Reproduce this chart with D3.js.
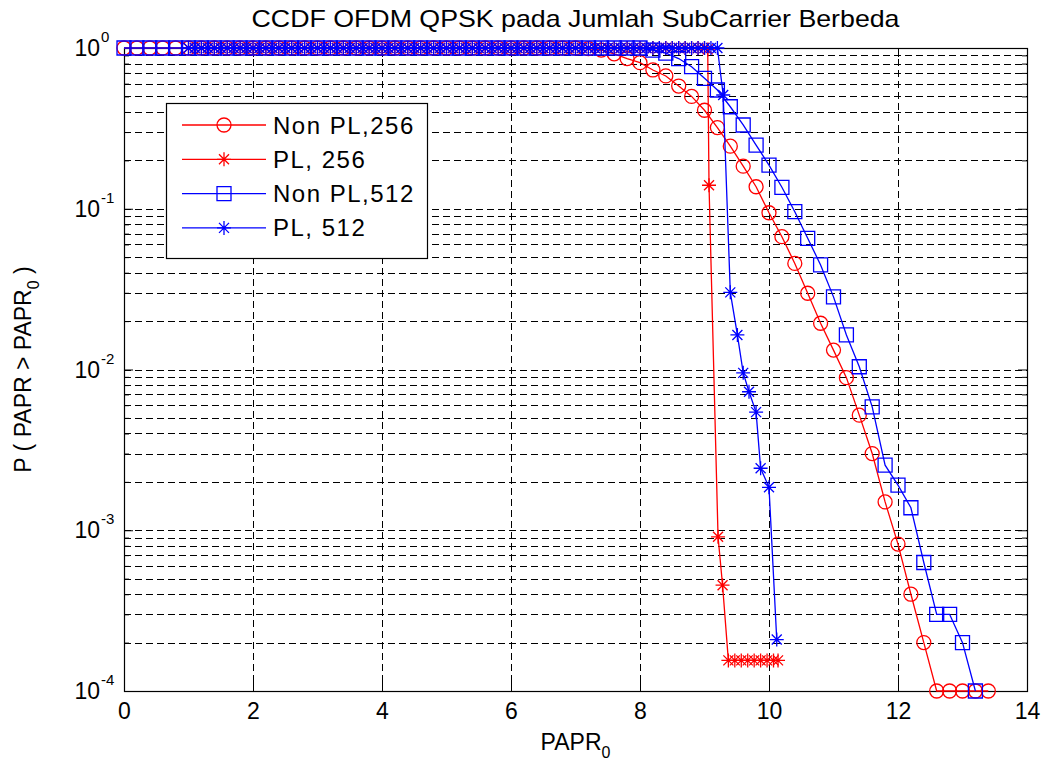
<!DOCTYPE html>
<html>
<head>
<meta charset="utf-8">
<script src="https://cdn.jsdelivr.net/npm/d3@7/dist/d3.min.js"></script>
<style>
  body { margin: 0; background: #fff; }
  text { font-family: "Liberation Sans", Arial, sans-serif; fill: #000; }
</style>
</head>
<body>
<div id="chart"></div>
<script>
// Non PL runs: PAPR0 in 0.2 dB steps
const nonPL256X = [0, 0.2, 0.4, 0.6, 0.8, 1.0, 1.2, 1.4, 1.6, 1.8, 2.0, 2.2, 2.4, 2.6, 2.8, 3.0, 3.2, 3.4, 3.6, 3.8,
    4.0, 4.2, 4.4, 4.6, 4.8, 5.0, 5.2, 5.4, 5.6, 5.8, 6.0, 6.2, 6.4, 6.6, 6.8, 7.0, 7.2, 7.4, 7.6, 7.8,
    8.0, 8.2, 8.4, 8.6, 8.8, 9.0, 9.2, 9.4, 9.6, 9.8, 10.0, 10.2, 10.4, 10.6, 10.8, 11.0, 11.2, 11.4, 11.6, 11.8,
    12.0, 12.2, 12.4, 12.6, 12.8, 13.0, 13.2, 13.4];
const nonPL256P = [1, 1, 1, 1, 1, 1, 1, 1, 1, 1, 1, 1, 1, 1, 1, 1, 1, 1, 1, 1,
    1, 1, 1, 1, 1, 1, 1, 1, 1, 1, 1, 1, 1, 1, 1, 1, 0.99, 0.97, 0.92, 0.86,
    0.81, 0.73, 0.67, 0.58, 0.50, 0.41, 0.32, 0.245, 0.184, 0.137, 0.0944, 0.067, 0.0457, 0.0298, 0.0194, 0.0132, 0.0089, 0.0052, 0.0030, 0.0015,
    0.00082, 0.0004, 0.0002, 0.0001, 0.0001, 0.0001, 0.0001, 0.0001];

const nonPL512X = [0, 0.2, 0.4, 0.6, 0.8, 1.0, 1.2, 1.4, 1.6, 1.8, 2.0, 2.2, 2.4, 2.6, 2.8, 3.0, 3.2, 3.4, 3.6, 3.8,
    4.0, 4.2, 4.4, 4.6, 4.8, 5.0, 5.2, 5.4, 5.6, 5.8, 6.0, 6.2, 6.4, 6.6, 6.8, 7.0, 7.2, 7.4, 7.6, 7.8,
    8.0, 8.2, 8.4, 8.6, 8.8, 9.0, 9.2, 9.4, 9.6, 9.8, 10.0, 10.2, 10.4, 10.6, 10.8, 11.0, 11.2, 11.4, 11.6, 11.8,
    12.0, 12.2, 12.4, 12.6, 12.8, 13.0, 13.2];
const nonPL512P = [1, 1, 1, 1, 1, 1, 1, 1, 1, 1, 1, 1, 1, 1, 1, 1, 1, 1, 1, 1,
    1, 1, 1, 1, 1, 1, 1, 1, 1, 1, 1, 1, 1, 1, 1, 1, 1, 1, 1, 1,
    1, 0.97, 0.93, 0.86, 0.765, 0.648, 0.548, 0.431, 0.332, 0.249, 0.187, 0.136, 0.0959, 0.0655, 0.0447, 0.0283, 0.0164, 0.0104, 0.00586, 0.00254,
    0.00191, 0.00138, 0.00063, 0.0003, 0.0003, 0.0002, 0.0001];

// PL runs: finer PAPR0 steps
const pl256X = [1.0, 1.1, 1.2, 1.3, 1.4, 1.5, 1.6, 1.7, 1.8, 1.9, 2.0, 2.1, 2.2, 2.3, 2.4, 2.5, 2.6, 2.7, 2.8, 2.9,
    3.0, 3.1, 3.2, 3.3, 3.4, 3.5, 3.6, 3.7, 3.8, 3.9, 4.0, 4.1, 4.2, 4.3, 4.4, 4.5, 4.6, 4.7, 4.8, 4.9,
    5.0, 5.1, 5.2, 5.3, 5.4, 5.5, 5.6, 5.7, 5.8, 5.9, 6.0, 6.1, 6.2, 6.3, 6.4, 6.5, 6.6, 6.7, 6.8, 6.9,
    7.0, 7.1, 7.2, 7.3, 7.4, 7.5, 7.6, 7.7, 7.8, 7.9, 8.0, 8.1, 8.2, 8.3, 8.4, 8.5, 8.6, 8.7, 8.8, 8.9,
    9.0, 9.05, 9.07, 9.21, 9.28, 9.37, 9.47, 9.57, 9.67, 9.77, 9.87, 9.97, 10.07, 10.14];
const pl256P = [1, 1, 1, 1, 1, 1, 1, 1, 1, 1, 1, 1, 1, 1, 1, 1, 1, 1, 1, 1,
    1, 1, 1, 1, 1, 1, 1, 1, 1, 1, 1, 1, 1, 1, 1, 1, 1, 1, 1, 1,
    1, 1, 1, 1, 1, 1, 1, 1, 1, 1, 1, 1, 1, 1, 1, 1, 1, 1, 1, 1,
    1, 1, 1, 1, 1, 1, 1, 1, 1, 1, 1, 1, 1, 1, 1, 1, 1, 1, 1, 1,
    1, 0.98, 0.14, 0.00091, 0.000455, 0.000155, 0.000155, 0.000155, 0.000155, 0.000155, 0.000155, 0.000155, 0.000155, 0.000155];

const pl512X = [1.0, 1.1, 1.2, 1.3, 1.4, 1.5, 1.6, 1.7, 1.8, 1.9, 2.0, 2.1, 2.2, 2.3, 2.4, 2.5, 2.6, 2.7, 2.8, 2.9,
    3.0, 3.1, 3.2, 3.3, 3.4, 3.5, 3.6, 3.7, 3.8, 3.9, 4.0, 4.1, 4.2, 4.3, 4.4, 4.5, 4.6, 4.7, 4.8, 4.9,
    5.0, 5.1, 5.2, 5.3, 5.4, 5.5, 5.6, 5.7, 5.8, 5.9, 6.0, 6.1, 6.2, 6.3, 6.4, 6.5, 6.6, 6.7, 6.8, 6.9,
    7.0, 7.1, 7.2, 7.3, 7.4, 7.5, 7.6, 7.7, 7.8, 7.9, 8.0, 8.1, 8.2, 8.3, 8.4, 8.5, 8.6, 8.7, 8.8, 8.9,
    9.0, 9.1, 9.2, 9.29, 9.40, 9.51, 9.60, 9.69, 9.80, 9.87, 10.0, 10.12];
const pl512P = [1, 1, 1, 1, 1, 1, 1, 1, 1, 1, 1, 1, 1, 1, 1, 1, 1, 1, 1, 1,
    1, 1, 1, 1, 1, 1, 1, 1, 1, 1, 1, 1, 1, 1, 1, 1, 1, 1, 1, 1,
    1, 1, 1, 1, 1, 1, 1, 1, 1, 1, 1, 1, 1, 1, 1, 1, 1, 1, 1, 1,
    1, 1, 1, 1, 1, 1, 1, 1, 1, 1, 1, 1, 1, 1, 1, 1, 1, 1, 1, 1,
    1, 1, 1, 0.51, 0.0302, 0.0164, 0.00953, 0.00727, 0.00543, 0.00243, 0.00185, 0.000209];

const seriesNames = ["Non PL,256", "PL, 256", "Non PL,512", "PL, 512"];
const xTicks = [0, 2, 4, 6, 8, 10, 12, 14];
const yDecades = [1e-4, 1e-3, 1e-2, 1e-1, 1];
const titleText = "CCDF OFDM QPSK pada Jumlah SubCarrier Berbeda";

const width = 1046, height = 763;
const margin = { top: 48, right: 19, bottom: 72, left: 124 };

const svg = d3.select("#chart").append("svg")
    .attr("width", width)
    .attr("height", height);

const x = d3.scaleLinear().domain([0, 14]).range([margin.left, width - margin.right]);
const y = d3.scaleLog().domain([1e-4, 1]).range([height - margin.bottom, margin.top]);

const allYTicks = y.ticks();
const minorY = allYTicks.filter(v => !yDecades.some(d => Math.abs(d - v) / d < 1e-9));

// grid (dashed)
const grid = svg.append("g").attr("stroke", "#000").attr("stroke-width", 1)
    .attr("stroke-dasharray", "7,4").attr("shape-rendering", "crispEdges");
grid.selectAll(".gx").data(xTicks.slice(1, -1)).enter().append("line")
    .attr("x1", d => Math.round(x(d)) + 0.5).attr("x2", d => Math.round(x(d)) + 0.5)
    .attr("y1", y(1)).attr("y2", y(1e-4));
grid.selectAll(".gy").data(allYTicks.filter(v => v > 1e-4 && v < 1)).enter().append("line")
    .attr("x1", x(0)).attr("x2", x(14))
    .attr("y1", d => Math.round(y(d)) + 0.5).attr("y2", d => Math.round(y(d)) + 0.5);

// axes, ticks pointing inwards
function styleAxis(g) {
    g.select(".domain").remove();
    g.selectAll(".tick line").attr("stroke", "#000");
}
const bottom = svg.append("g").attr("transform", `translate(0,${y(1e-4)})`)
    .call(d3.axisBottom(x).tickValues(xTicks).tickSizeInner(-9).tickSizeOuter(0).tickPadding(12).tickFormat(d3.format("d")))
    .call(styleAxis);
bottom.selectAll("text").attr("font-size", 23).attr("font-family", "Liberation Sans, Arial, sans-serif");
svg.append("g").attr("transform", `translate(0,${y(1)})`)
    .call(d3.axisTop(x).tickValues(xTicks).tickSizeInner(-9).tickSizeOuter(0).tickFormat(""))
    .call(styleAxis);
svg.append("g").attr("transform", `translate(${x(0)},0)`)
    .call(d3.axisLeft(y).tickValues(yDecades).tickSizeInner(-9).tickSizeOuter(0).tickFormat(""))
    .call(styleAxis);
svg.append("g").attr("transform", `translate(${x(0)},0)`)
    .call(d3.axisLeft(y).tickValues(minorY).tickSizeInner(-5).tickSizeOuter(0).tickFormat(""))
    .call(styleAxis);
svg.append("g").attr("transform", `translate(${x(14)},0)`)
    .call(d3.axisRight(y).tickValues(yDecades).tickSizeInner(-9).tickSizeOuter(0).tickFormat(""))
    .call(styleAxis);
svg.append("g").attr("transform", `translate(${x(14)},0)`)
    .call(d3.axisRight(y).tickValues(minorY).tickSizeInner(-5).tickSizeOuter(0).tickFormat(""))
    .call(styleAxis);

// y labels 10^n
svg.append("g").selectAll("text").data(yDecades).enter().append("text")
    .attr("x", x(0) - 24)
    .attr("y", d => y(d) + 8)
    .attr("text-anchor", "end")
    .attr("font-size", 23)
    .text("10");
svg.append("g").selectAll("text").data(yDecades).enter().append("text")
    .attr("x", x(0) - 23)
    .attr("y", d => y(d) - 6)
    .attr("font-size", 15)
    .text(d => Math.round(Math.log10(d)) === 0 ? "0" : "-" + Math.abs(Math.round(Math.log10(d))));

// box
svg.append("rect")
    .attr("x", x(0) + 0.5).attr("y", y(1) + 0.5)
    .attr("width", x(14) - x(0)).attr("height", y(1e-4) - y(1))
    .attr("fill", "none").attr("stroke", "#000").attr("stroke-width", 1.2);

// markers
const markerPath = {
    circle: "M-7,0A7,7 0 1,0 7,0A7,7 0 1,0 -7,0Z",
    square: "M-7,-7H7V7H-7Z",
    star: "M-7,0H7M0,-7V7M-5,-5L5,5M-5,5L5,-5"
};

const series = [
    { name: seriesNames[0], xs: nonPL256X, ps: nonPL256P, color: "#ff0000", marker: "circle" },
    { name: seriesNames[1], xs: pl256X, ps: pl256P, color: "#ff0000", marker: "star" },
    { name: seriesNames[2], xs: nonPL512X, ps: nonPL512P, color: "#0000ff", marker: "square" },
    { name: seriesNames[3], xs: pl512X, ps: pl512P, color: "#0000ff", marker: "star" }
];

const line = d3.line().x(d => x(d[0])).y(d => y(d[1]));

series.forEach(s => {
    const pts = s.xs.map((v, i) => [v, s.ps[i]]);
    const g = svg.append("g");
    g.append("path").datum(pts)
        .attr("d", line)
        .attr("fill", "none")
        .attr("stroke", s.color)
        .attr("stroke-width", 1.3);
    g.selectAll("path.m").data(pts).enter().append("path")
        .attr("class", "m")
        .attr("transform", d => `translate(${x(d[0])},${y(d[1])})`)
        .attr("d", markerPath[s.marker])
        .attr("fill", "none")
        .attr("stroke", s.color)
        .attr("stroke-width", 1.3);
});

// legend
const legend = svg.append("g");
legend.append("rect")
    .attr("x", 166.5).attr("y", 103.5).attr("width", 261).attr("height", 155)
    .attr("fill", "#fff").attr("stroke", "#000").attr("stroke-width", 1.2);
series.forEach((s, i) => {
    const ly = 125 + i * 34.3;
    legend.append("line")
        .attr("x1", 182).attr("x2", 266).attr("y1", ly).attr("y2", ly)
        .attr("stroke", s.color).attr("stroke-width", 1.3);
    legend.append("path")
        .attr("transform", `translate(224,${ly})`)
        .attr("d", markerPath[s.marker])
        .attr("fill", "none").attr("stroke", s.color).attr("stroke-width", 1.3);
    legend.append("text")
        .attr("x", 273).attr("y", ly + 8.5)
        .attr("font-size", 24)
        .attr("letter-spacing", 1.5)
        .text(s.name);
});

// title
svg.append("text")
    .attr("x", (x(0) + x(14)) / 2).attr("y", 27)
    .attr("text-anchor", "middle")
    .attr("font-size", 24)
    .attr("textLength", 648).attr("lengthAdjust", "spacingAndGlyphs")
    .text(titleText);

// axis labels
const xl = svg.append("text")
    .attr("x", (x(0) + x(14)) / 2).attr("y", 750)
    .attr("text-anchor", "middle")
    .attr("font-size", 23);
xl.append("tspan").text("PAPR");
xl.append("tspan").attr("dy", 8).attr("font-size", 16).text("0");

const yl = svg.append("text")
    .attr("transform", `translate(31,${(y(1) + y(1e-4)) / 2}) rotate(-90)`)
    .attr("text-anchor", "middle")
    .attr("font-size", 23);
yl.append("tspan").text("P ( PAPR > PAPR");
yl.append("tspan").attr("dy", 8).attr("font-size", 16).text("0");
yl.append("tspan").attr("dy", -8).text(" )");
</script>
</body>
</html>
